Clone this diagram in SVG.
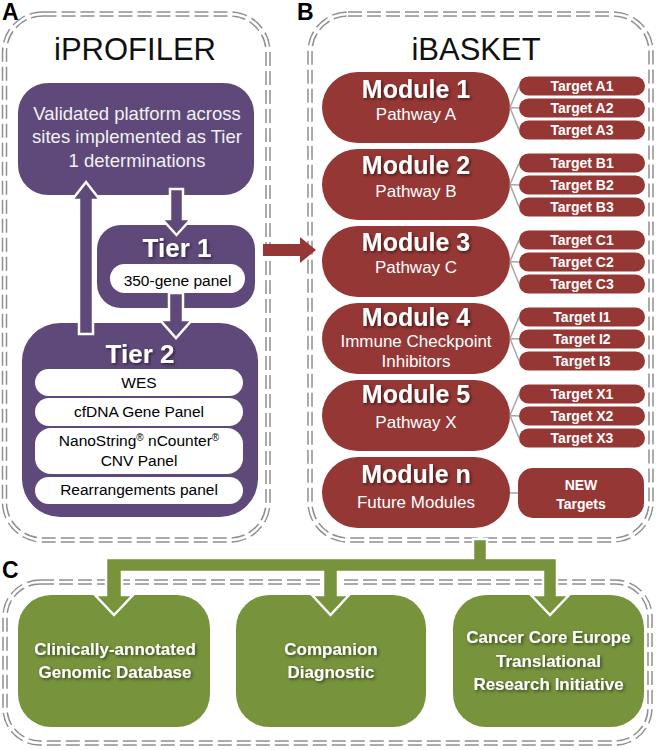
<svg xmlns="http://www.w3.org/2000/svg" width="656" height="750" viewBox="0 0 656 750">
<defs>
<filter id="sh" x="-20%" y="-50%" width="140%" height="200%"><feDropShadow dx="1.5" dy="1.5" stdDeviation="1.5" flood-color="#000" flood-opacity="0.55"/></filter>
</defs>
<style>
text{font-family:"Liberation Sans",Arial,sans-serif}
.lbl{font-size:23px;font-weight:bold;fill:#000}
.ttl{font-size:31px;fill:#111;text-anchor:middle}
.bo{fill:none;stroke:#8f8f8f;stroke-width:5.5;stroke-dasharray:14 5}
.bi{fill:none;stroke:#fff;stroke-width:2.5}
.pu{fill:#5f497a}
.pill{fill:#fff}
.wt{fill:#f2f2f2;font-size:18.5px;text-anchor:middle}
.tier{fill:#fff;font-size:26px;font-weight:bold;text-anchor:middle;filter:url(#sh)}
.pt{fill:#000;font-size:15.5px;text-anchor:middle}
.rd{fill:#953735}
.mt{fill:#fff;font-size:25px;font-weight:bold;text-anchor:middle;filter:url(#sh)}
.ms{fill:#fff;font-size:17px;text-anchor:middle}
.tt{fill:#fff;font-size:14px;font-weight:bold;text-anchor:middle}
.cl{stroke:#a6a6a6;stroke-width:1.5;fill:none}
.gr{fill:#77933c}
.gt{fill:#fff;font-size:17px;font-weight:bold;text-anchor:middle;filter:url(#sh)}
.arr{stroke:#fff;stroke-width:2.5;stroke-linejoin:miter}
</style>
<rect width="656" height="750" fill="#fff"/>

<g id="panels">
<rect class="bo" x="4.5" y="14" width="263.5" height="526" rx="38"/>
<rect class="bi" x="4.5" y="14" width="263.5" height="526" rx="38"/>
<rect class="bo" x="310" y="14" width="341" height="526" rx="38"/>
<rect class="bi" x="310" y="14" width="341" height="526" rx="38"/>
<rect class="bo" x="5" y="582" width="645" height="161" rx="35"/>
<rect class="bi" x="5" y="582" width="645" height="161" rx="35"/>
<text class="lbl" x="2" y="20">A</text>
<text class="lbl" x="297" y="20">B</text>
<text class="lbl" x="2" y="578">C</text>
<text class="ttl" x="135" y="60">iPROFILER</text>
<text class="ttl" x="476" y="60">iBASKET</text>
</g>

<g id="validated">
<rect class="pu" x="18" y="83" width="236" height="112" rx="30"/>
<text class="wt" x="137" y="120">Validated platform across</text>
<text class="wt" x="137" y="143">sites implemented as Tier</text>
<text class="wt" x="137" y="167">1 determinations</text>
</g>
<g id="tier1">
<rect class="pu" x="97" y="225" width="158" height="83" rx="24"/>
<text class="tier" x="177" y="257">Tier 1</text>
<rect class="pill" x="110" y="264" width="135" height="29" rx="14.5"/>
<text class="pt" x="177.5" y="286">350-gene panel</text>
</g>
<g id="tier2">
<rect class="pu" x="22" y="323" width="236" height="194" rx="38"/>
<text class="tier" x="140" y="363">Tier 2</text>
<rect class="pill" x="35" y="369" width="208" height="27" rx="13.5"/>
<text class="pt" x="139" y="388">WES</text>
<rect class="pill" x="35" y="398" width="208" height="28" rx="14"/>
<text class="pt" x="139" y="417">cfDNA Gene Panel</text>
<rect class="pill" x="35" y="428" width="208" height="46" rx="16"/>
<text class="pt" x="139" y="446">NanoString<tspan font-size="10" dy="-5">®</tspan><tspan dy="5"> nCounter</tspan><tspan font-size="10" dy="-5">®</tspan></text>
<text class="pt" x="139" y="466">CNV Panel</text>
<rect class="pill" x="35" y="477" width="208" height="27" rx="13.5"/>
<text class="pt" x="139" y="495">Rearrangements panel</text>
</g>

<g id="module1">
<rect class="rd" x="322" y="72" width="188" height="71" rx="35.5"/>
<text class="mt" x="416" y="98">Module 1</text>
<text class="ms" x="416" y="120">Pathway A</text>
<rect class="rd" x="519" y="76.5" width="126" height="19" rx="9.5"/>
<rect class="rd" x="519" y="98.5" width="126" height="19" rx="9.5"/>
<rect class="rd" x="519" y="120.5" width="126" height="19" rx="9.5"/>
<text class="tt" x="582" y="91">Target A1</text>
<text class="tt" x="582" y="113">Target A2</text>
<text class="tt" x="582" y="135">Target A3</text>
</g>
<g id="module2">
<rect class="rd" x="322" y="149" width="188" height="71" rx="35.5"/>
<text class="mt" x="416" y="174">Module 2</text>
<text class="ms" x="416" y="197">Pathway B</text>
<rect class="rd" x="519" y="153.5" width="126" height="19" rx="9.5"/>
<rect class="rd" x="519" y="175.5" width="126" height="19" rx="9.5"/>
<rect class="rd" x="519" y="197.5" width="126" height="19" rx="9.5"/>
<text class="tt" x="582" y="168">Target B1</text>
<text class="tt" x="582" y="190">Target B2</text>
<text class="tt" x="582" y="212">Target B3</text>
</g>
<g id="module3">
<rect class="rd" x="322" y="226" width="188" height="71" rx="35.5"/>
<text class="mt" x="416" y="251">Module 3</text>
<text class="ms" x="416" y="273">Pathway C</text>
<rect class="rd" x="519" y="230.5" width="126" height="19" rx="9.5"/>
<rect class="rd" x="519" y="252.5" width="126" height="19" rx="9.5"/>
<rect class="rd" x="519" y="274.5" width="126" height="19" rx="9.5"/>
<text class="tt" x="582" y="245">Target C1</text>
<text class="tt" x="582" y="267">Target C2</text>
<text class="tt" x="582" y="289">Target C3</text>
</g>
<g id="module4">
<rect class="rd" x="322" y="303" width="188" height="71" rx="35.5"/>
<text class="mt" x="416" y="326">Module 4</text>
<text class="ms" x="416" y="347">Immune Checkpoint</text>
<text class="ms" x="416" y="367">Inhibitors</text>
<rect class="rd" x="519" y="307.5" width="126" height="19" rx="9.5"/>
<rect class="rd" x="519" y="329.5" width="126" height="19" rx="9.5"/>
<rect class="rd" x="519" y="351.5" width="126" height="19" rx="9.5"/>
<text class="tt" x="582" y="322">Target I1</text>
<text class="tt" x="582" y="344">Target I2</text>
<text class="tt" x="582" y="366">Target I3</text>
</g>
<g id="module5">
<rect class="rd" x="322" y="380" width="188" height="71" rx="35.5"/>
<text class="mt" x="416" y="403">Module 5</text>
<text class="ms" x="416" y="428">Pathway X</text>
<rect class="rd" x="519" y="384.5" width="126" height="19" rx="9.5"/>
<rect class="rd" x="519" y="406.5" width="126" height="19" rx="9.5"/>
<rect class="rd" x="519" y="428.5" width="126" height="19" rx="9.5"/>
<text class="tt" x="582" y="399">Target X1</text>
<text class="tt" x="582" y="421">Target X2</text>
<text class="tt" x="582" y="443">Target X3</text>
</g>
<g id="modulen">
<rect class="rd" x="322" y="457" width="188" height="71" rx="35.5"/>
<text class="mt" x="416" y="483">Module n</text>
<text class="ms" x="416" y="508" font-size="18">Future Modules</text>
<rect class="rd" x="518" y="468" width="126" height="50" rx="15"/>
<text class="tt" x="581" y="490">NEW</text>
<text class="tt" x="581" y="509">Targets</text>
</g>

<g id="database">
<rect class="gr" x="18" y="595" width="192" height="132" rx="33"/>
<text class="gt" x="115" y="655">Clinically-annotated</text>
<text class="gt" x="115" y="678">Genomic Database</text>
</g>
<g id="companion">
<rect class="gr" x="236" y="595" width="190" height="132" rx="33"/>
<text class="gt" x="331" y="655">Companion</text>
<text class="gt" x="331" y="678">Diagnostic</text>
</g>
<g id="cce">
<rect class="gr" x="453" y="595" width="191" height="132" rx="33"/>
<text class="gt" x="548.5" y="643">Cancer Core Europe</text>
<text class="gt" x="548.5" y="667">Translational</text>
<text class="gt" x="548.5" y="690">Research Initiative</text>
</g>

<g id="connectors">
<polygon class="pu arr" points="170,189 183,189 183,219 191,219 176.5,235 162,219 170,219"/>
<polygon class="pu arr" points="169,293 183,293 183,320 192,320 176,338 160,320 169,320"/>
<polygon class="pu arr" points="79,334 93,334 93,200 100,200 86,182 72,200 79,200"/>
<polygon class="rd" points="263,244 300,244 300,237 316,250 300,263 300,256 263,256"/>
<path class="cl" d="M510,107.5 L519,86 M510,107.5 L519,108 M510,107.5 L519,130"/>
<path class="cl" d="M510,184.5 L519,163 M510,184.5 L519,185 M510,184.5 L519,207"/>
<path class="cl" d="M510,261.5 L519,240 M510,261.5 L519,262 M510,261.5 L519,284"/>
<path class="cl" d="M510,338.5 L519,317 M510,338.5 L519,339 M510,338.5 L519,361"/>
<path class="cl" d="M510,415.5 L519,394 M510,415.5 L519,416 M510,415.5 L519,438"/>
<path class="cl" d="M510,493 L518,493"/>
<path class="gr arr" d="M473,539 L487,539 L487,558 L557,558 L557,595 L569,595 L550,615 L531,595 L543,595 L543,572 L338,572 L338,595 L349,595 L330.5,615 L312,595 L323,595 L323,572 L122,572 L122,595 L133,595 L114,615 L95,595 L106,595 L106,558 L473,558 Z"/>
</g>
</svg>
